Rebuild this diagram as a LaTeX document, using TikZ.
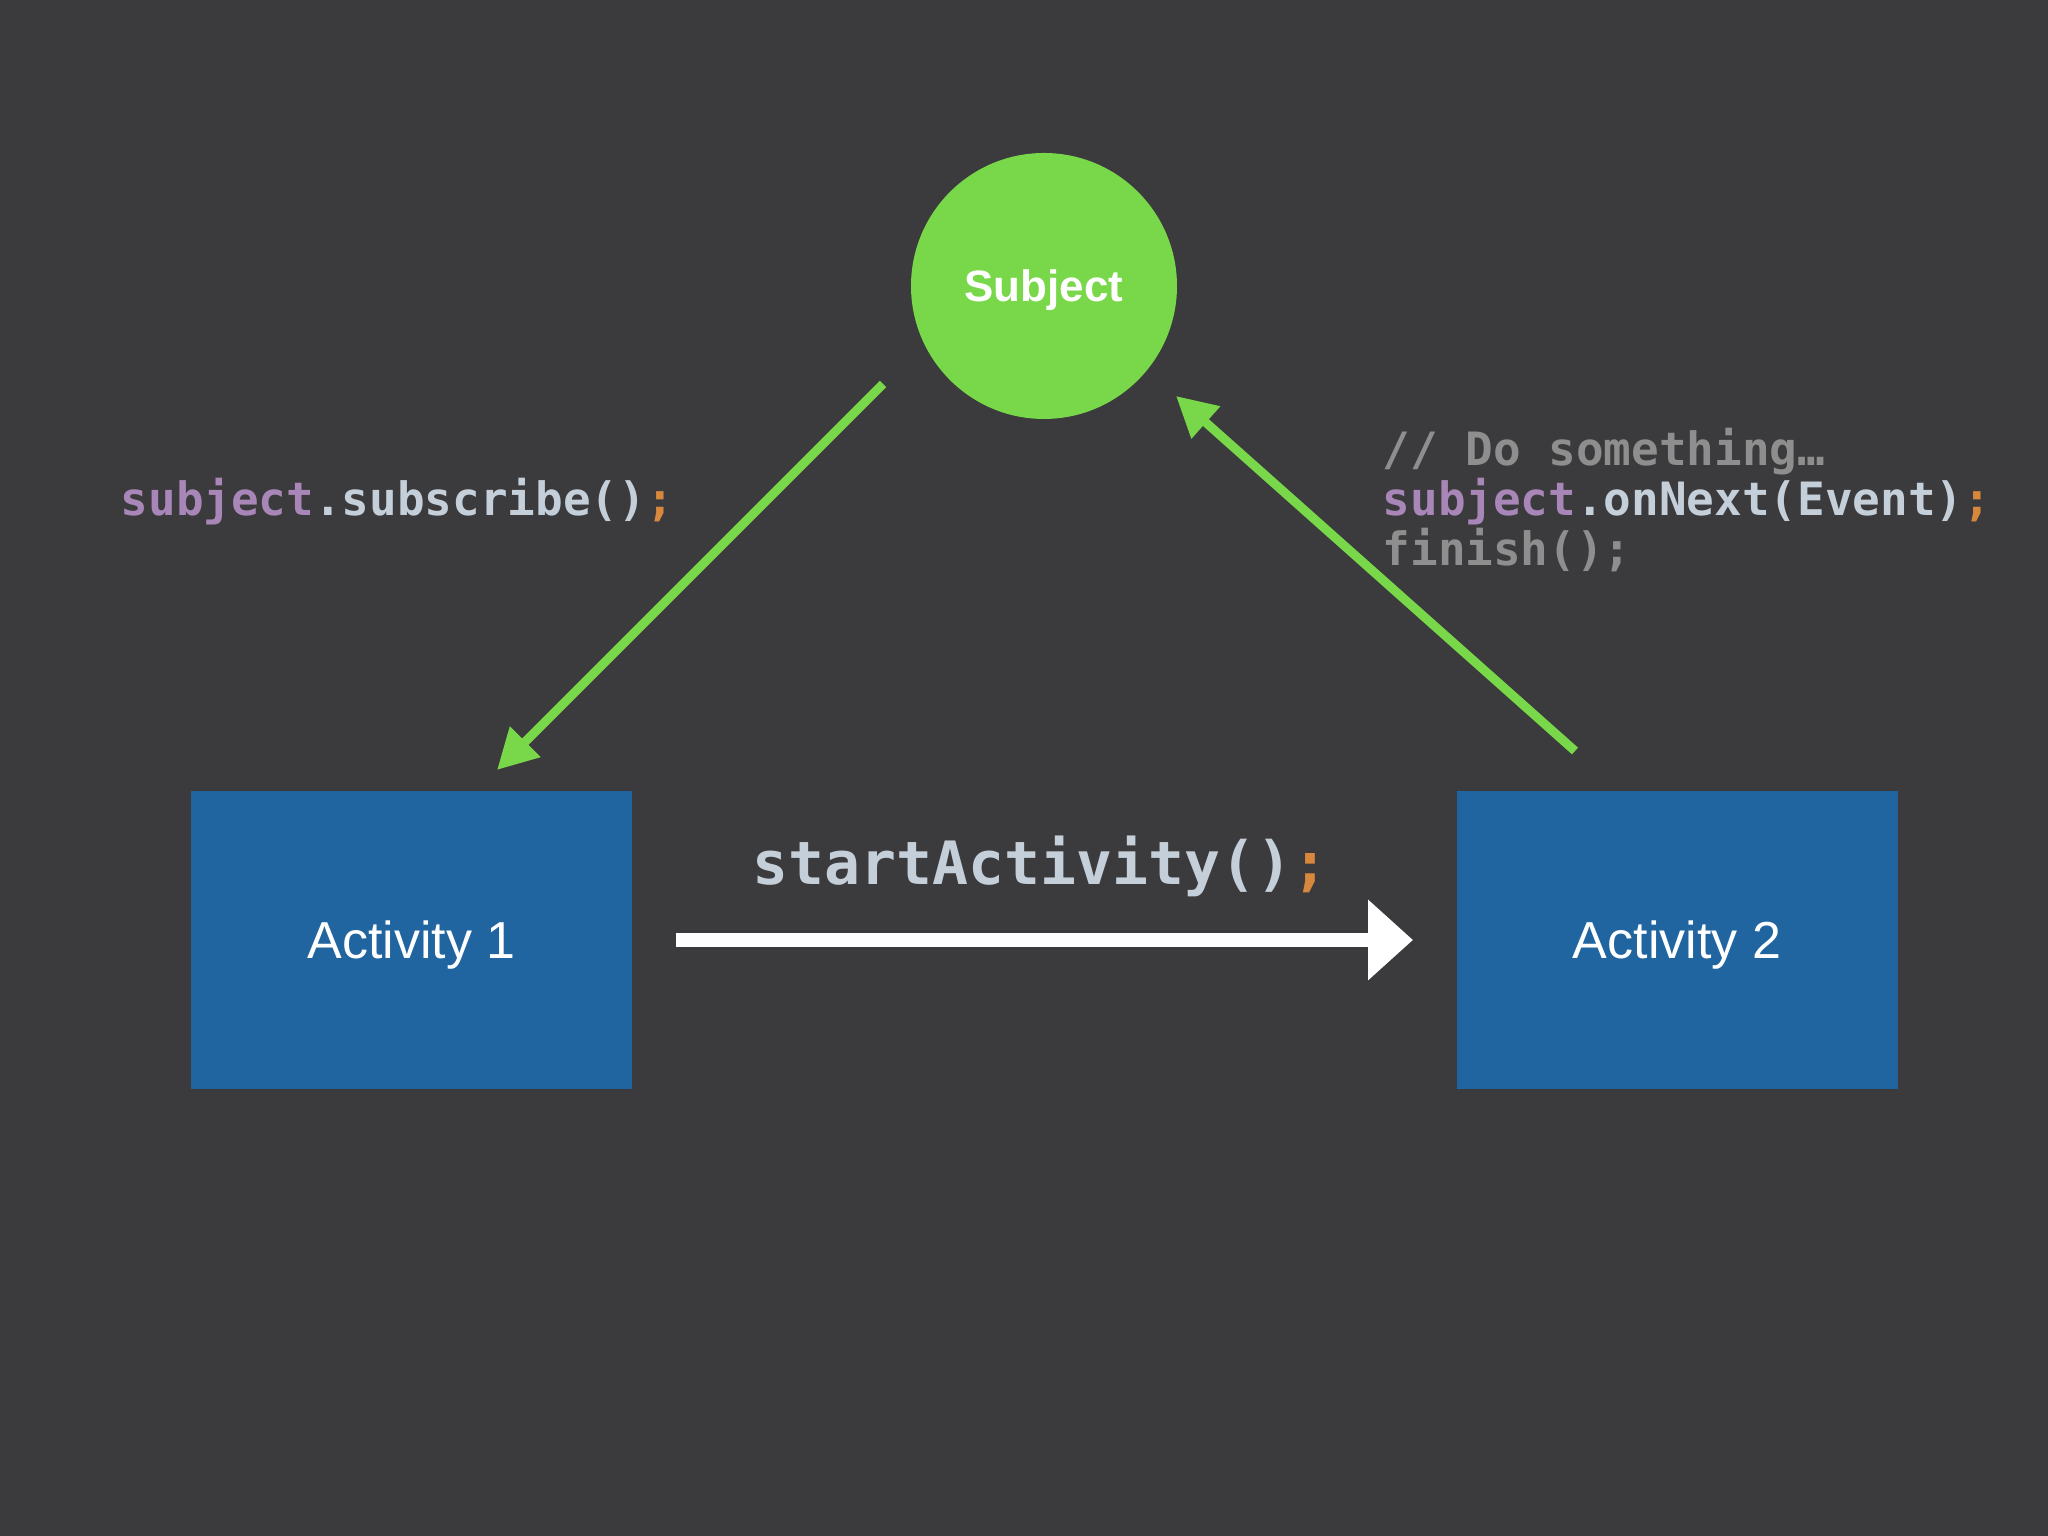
\documentclass[tikz,border=0pt]{standalone}
\usepackage{fontspec}
\setmainfont{Liberation Sans}
\setsansfont{Liberation Sans}
\setmonofont{DejaVu Sans Mono}
\usetikzlibrary{arrows.meta}
\definecolor{bgcol}{HTML}{3B3A3C}
\definecolor{subjgreen}{HTML}{78D84A}
\definecolor{actblue}{HTML}{2064A0}
\definecolor{kwpurple}{HTML}{A886B8}
\definecolor{codelight}{HTML}{C4CFDA}
\definecolor{semiorange}{HTML}{D8883C}
\definecolor{cmtgray}{HTML}{8E8E8E}
\newcommand{\kw}[1]{\textcolor{kwpurple}{#1}}
\newcommand{\semi}{\textcolor{semiorange}{;}}
\begin{document}
\begin{tikzpicture}[x=1cm,y=1cm,
	act/.style={fill=actblue,minimum width=4.41cm,minimum height=2.98cm,inner sep=0pt,
		text=white,font=\fontsize{14.8pt}{17pt}\selectfont,text height=10.6pt,text depth=0pt},
	code/.style={anchor=base west,inner sep=0pt,text=codelight,font=\ttfamily\bfseries\fontsize{13.07pt}{15pt}\selectfont},
	garr/.style={draw=subjgreen,line width=0.09cm,-{Triangle[length=0.40cm,width=0.41cm]}}]
	\fill[bgcol] (0,0) rectangle (20.48,15.36);
	\useasboundingbox (0,0) rectangle (20.48,15.36);
	% nodes
	\node[circle,fill=subjgreen,minimum size=2.66cm,inner sep=0pt,text=white,
		font=\bfseries\fontsize{12.5pt}{15pt}\selectfont,text height=9pt,text depth=0pt] (subj) at (10.44,12.50) {Subject};
	\node[act] (act1) at (4.115,5.96) {Activity 1};
	\node[act] (act2) at (16.77,5.96) {Activity 2};
	% arrow ends
	\coordinate (s1) at (8.83,11.52);
	\coordinate (t1) at (4.97,7.66);
	\coordinate (s2) at (15.75,7.85);
	\coordinate (t2) at (11.76,11.40);
	\coordinate (s3) at (6.76,5.96);
	\coordinate (t3) at (14.13,5.96);
	\draw[garr] (s1) -- (t1);
	\draw[garr] (s2) -- (t2);
	\draw[white,line width=0.14cm,-{Triangle[length=0.45cm,width=0.78cm]}] (s3) -- (t3);
	% code
	\node[code] (subscr) at (1.20,10.20) {\kw{subject}.subscribe()\semi};
	\node[code,text=cmtgray] (cmt) at (13.82,10.70) {// Do something…};
	\node[code] (nxt) at (13.82,10.20) {\kw{subject}.onNext(Event)\semi};
	\node[code,text=cmtgray] (fin) at (13.82,9.70) {finish();};
	\node[code,font=\ttfamily\bfseries\fontsize{17pt}{19pt}\selectfont] (start) at (7.52,6.51) {startActivity()\semi};
\end{tikzpicture}
\end{document}
